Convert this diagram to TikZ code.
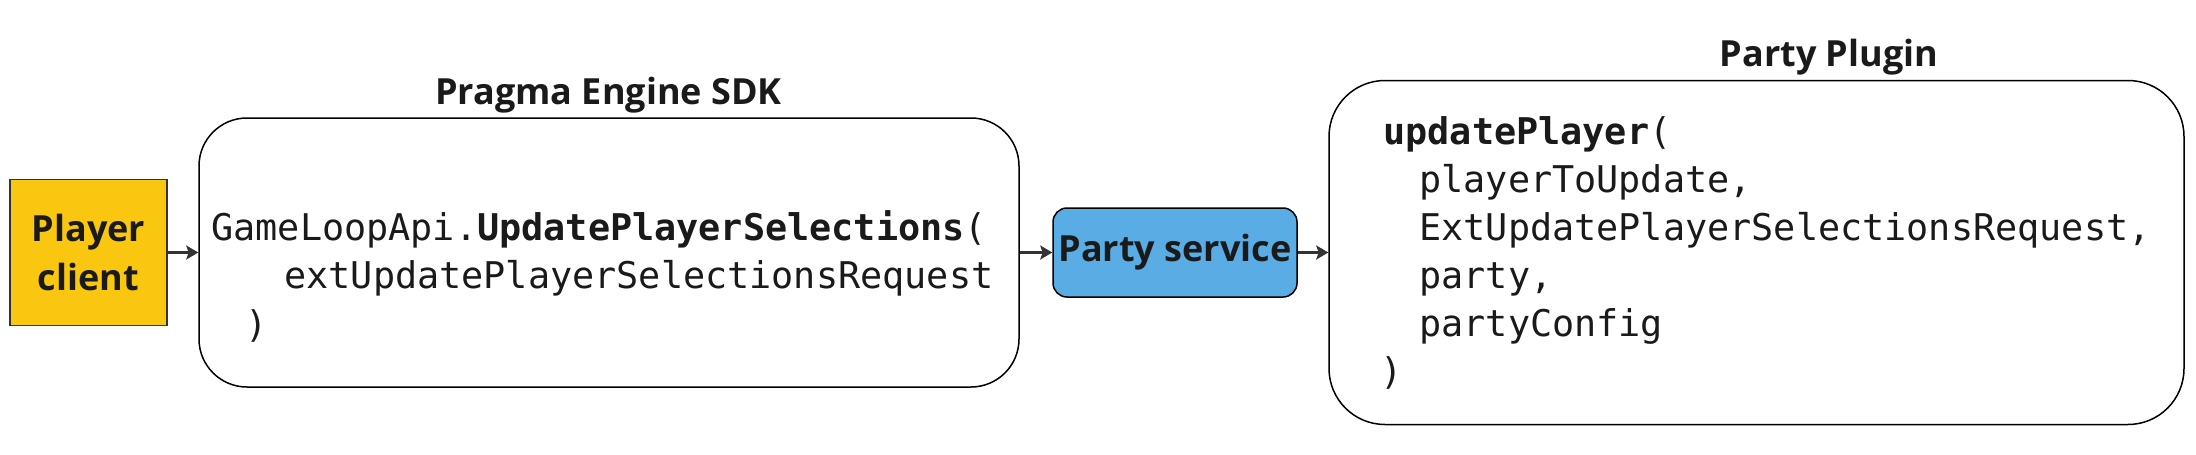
\documentclass[tikz,border=0pt]{standalone}
\usepackage{fontspec}
\setmainfont{Open Sans}
\newfontfamily\codefont{DejaVu Sans Mono}
\usetikzlibrary{arrows.meta}
\definecolor{pcyellow}{HTML}{FAC710}
\definecolor{psblue}{HTML}{5AACE4}
\definecolor{arrowgray}{HTML}{333333}
\definecolor{txt}{HTML}{1A1A1A}
\begin{document}
\begin{tikzpicture}[x=0.5pt,y=-0.5pt,
  box/.style={draw=black, line width=0.75pt, inner sep=0pt},
  lbl/.style={font=\fontsize{18}{24.5}\selectfont\bfseries, text=txt, align=center},
  ttl/.style={font=\fontsize{18}{22}\selectfont\bfseries, text=txt, anchor=base, inner sep=0pt},
  code/.style={font=\fontsize{18.4}{24}\selectfont\codefont, text=txt, anchor=base west, inner sep=0pt},
  flow/.style={draw=arrowgray, line width=1.25pt, -{Stealth[length=6pt,width=7pt,inset=1.2pt]}}]
\useasboundingbox (0,0) rectangle (2196,455);
\node[box, draw=arrowgray, fill=pcyellow, minimum width=78.5pt, minimum height=73pt, lbl] (client) at (88.5,252.5) {Player\\client};
\node[box, rounded corners=24pt, minimum width=410pt, minimum height=134.5pt] (sdk) at (609,252.5) {};
\node[box, fill=psblue, rounded corners=7pt, minimum width=122pt, minimum height=44.5pt, lbl] (svc) at (1175,252.5) {Party service};
\node[box, rounded corners=28pt, minimum width=427.5pt, minimum height=172pt] (plugin) at (1756.5,252.5) {};
\node[ttl] (sdktitle) at (608.5,104) {Pragma Engine SDK};
\node[ttl] (plugintitle) at (1829,66.5) {Party Plugin};
\node[code] (s1) at (211,240) {GameLoopApi.\textbf{UpdatePlayerSelections}(};
\node[code] (s2) at (284,288.5) {extUpdatePlayerSelectionsRequest};
\node[code] (s3) at (245,337) {)};
\node[code] (p1) at (1383,144.5) {\textbf{updatePlayer}(};
\node[code] (p2) at (1419,192.5) {playerToUpdate,};
\node[code] (p3) at (1419,240.5) {ExtUpdatePlayerSelectionsRequest,};
\node[code] (p4) at (1419,288.5) {party,};
\node[code] (p5) at (1419,336.5) {partyConfig};
\node[code] (p6) at (1380,384.5) {)};
\draw[flow] (client.east) -- (sdk.west);
\draw[flow] (sdk.east) -- (svc.west);
\draw[flow] (svc.east) -- (plugin.west);
\end{tikzpicture}
\end{document}
